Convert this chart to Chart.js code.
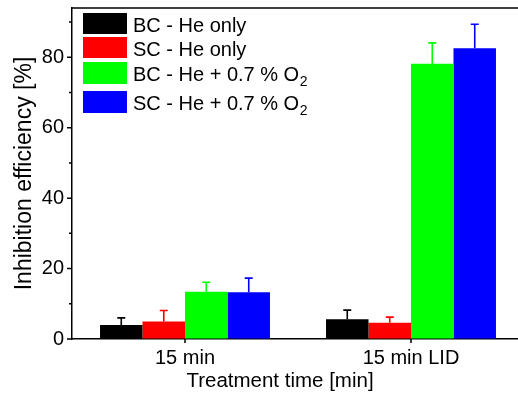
<!DOCTYPE html>
<html><head><meta charset="utf-8">
<script src="https://cdn.jsdelivr.net/npm/chart.js@4.4.1/dist/chart.umd.min.js"></script>
<style>html,body{margin:0;padding:0;overflow:hidden;background:#fff;width:518px;height:397px}
#wrap{width:526px;height:397px}</style></head>
<body><div id="wrap"><canvas id="c" width="526" height="397"></canvas></div>
<script>
const categories = ['15 min', '15 min LID'];
const seriesLabels = ['BC - He only', 'SC - He only', 'BC - He + 0.7 % O₂', 'SC - He + 0.7 % O₂'];
const seriesColors = ['#000000', '#ff0000', '#00ff00', '#0000ff'];
const bcHe = [4.0, 5.6];
const bcHeErr = [2.0, 2.6];
const scHe = [5.0, 4.6];
const scHeErr = [3.1, 1.6];
const bcO2 = [13.4, 78.2];
const bcO2Err = [2.7, 5.9];
const scO2 = [13.3, 82.6];
const scO2Err = [4.0, 6.8];
const yMajorTicks = [0, 20, 40, 60, 80];
const yMinorTicks = [10, 30, 50, 70, 90];
const xTitle = 'Treatment time [min]';
const yTitle = 'Inhibition efficiency [%]';

const FONT = '"Liberation Sans", Arial, sans-serif';
const values = [bcHe, scHe, bcO2, scO2];
const errors = [bcHeErr, scHeErr, bcO2Err, scO2Err];

const datasets = values.map((v, i) => ({
  label: seriesLabels[i],
  data: v,
  backgroundColor: seriesColors[i],
  borderWidth: 0,
  barPercentage: 1,
  categoryPercentage: 0.752
}));

const decor = {
  id: 'decor',
  afterDatasetsDraw(chart) {
    const ctx = chart.ctx;
    const y = chart.scales.y;
    ctx.save();
    chart.data.datasets.forEach((ds, di) => {
      const meta = chart.getDatasetMeta(di);
      meta.data.forEach((bar, i) => {
        const top = y.getPixelForValue(values[di][i]);
        const et = y.getPixelForValue(values[di][i] + errors[di][i]);
        ctx.strokeStyle = seriesColors[di];
        ctx.lineWidth = 1.6;
        ctx.beginPath();
        ctx.moveTo(bar.x, top);
        ctx.lineTo(bar.x, et);
        ctx.moveTo(bar.x - 4, et);
        ctx.lineTo(bar.x + 4, et);
        ctx.stroke();
      });
    });
    ctx.restore();
  },
  afterDraw(chart) {
    const ctx = chart.ctx;
    const a = chart.chartArea;
    const y = chart.scales.y;
    const x = chart.scales.x;
    ctx.save();
    ctx.strokeStyle = '#000';
    ctx.lineWidth = 1.5;
    ctx.beginPath();
    ctx.moveTo(a.left, a.top);
    ctx.lineTo(a.right, a.top);
    ctx.lineTo(a.right, a.bottom);
    ctx.stroke();
    ctx.beginPath();
    yMajorTicks.forEach(v => { const p = y.getPixelForValue(v); ctx.moveTo(a.left - 5, p); ctx.lineTo(a.left, p); });
    yMinorTicks.forEach(v => { const p = y.getPixelForValue(v); ctx.moveTo(a.left - 3, p); ctx.lineTo(a.left, p); });
    categories.forEach((c, i) => { const p = x.getPixelForValue(i); ctx.moveTo(p, a.bottom); ctx.lineTo(p, a.bottom + 4); });
    ctx.stroke();
    ctx.fillStyle = '#000';
    ctx.font = '20.5px ' + FONT;
    ctx.textAlign = 'center';
    ctx.textBaseline = 'alphabetic';
    ctx.fillText(xTitle, 280, 387);
    const rows = [[13, 34, 32], [37, 58, 56], [62, 84, 81], [91, 113, 110]];
    ctx.textAlign = 'left';
    seriesLabels.forEach((lab, i) => {
      const r = rows[i];
      ctx.fillStyle = seriesColors[i];
      ctx.fillRect(83, r[0], 44, r[1] - r[0]);
      ctx.fillStyle = '#000';
      ctx.font = '20px ' + FONT;
      const idx = lab.indexOf('₂');
      if (idx >= 0) {
        const main = lab.slice(0, idx);
        ctx.fillText(main, 133, r[2]);
        const w = ctx.measureText(main).width;
        ctx.font = '14px ' + FONT;
        ctx.fillText('2', 133 + w + 0.5, r[2] + 5);
      } else {
        ctx.fillText(lab, 133, r[2]);
      }
    });
    ctx.restore();
  }
};

new Chart(document.getElementById('c'), {
  type: 'bar',
  data: { labels: categories, datasets },
  options: {
    responsive: false,
    animation: false,
    layout: { padding: { top: 8, right: 2, left: 0, bottom: 0 } },
    plugins: { legend: { display: false }, tooltip: { enabled: false } },
    scales: {
      x: {
        type: 'category',
        offset: true,
        grid: { color: 'rgba(0,0,0,0)', drawOnChartArea: false, tickLength: 4 },
        border: { display: true, color: '#000', width: 1.5 },
        ticks: { color: '#000', font: { family: FONT, size: 20 }, padding: 3, maxRotation: 0 },
        afterFit(s) { s.height = 58; s.paddingLeft = 0; s.paddingRight = 0; }
      },
      y: {
        min: 0, max: 94,
        grid: { color: 'rgba(0,0,0,0)', drawOnChartArea: false, tickLength: 5 },
        border: { display: true, color: '#000', width: 1.5 },
        ticks: { stepSize: 10, color: '#000', font: { family: FONT, size: 20 }, padding: 3,
                 callback: v => (yMajorTicks.includes(v) ? String(v) : '') },
        title: { display: true, text: yTitle, color: '#000', font: { family: FONT, size: 23 }, padding: { top: 11, bottom: 0 } },
        afterFit(s) { s.width = 72; s.paddingTop = 0; s.paddingBottom = 0; }
      }
    }
  },
  plugins: [decor]
});
</script>
</body></html>
